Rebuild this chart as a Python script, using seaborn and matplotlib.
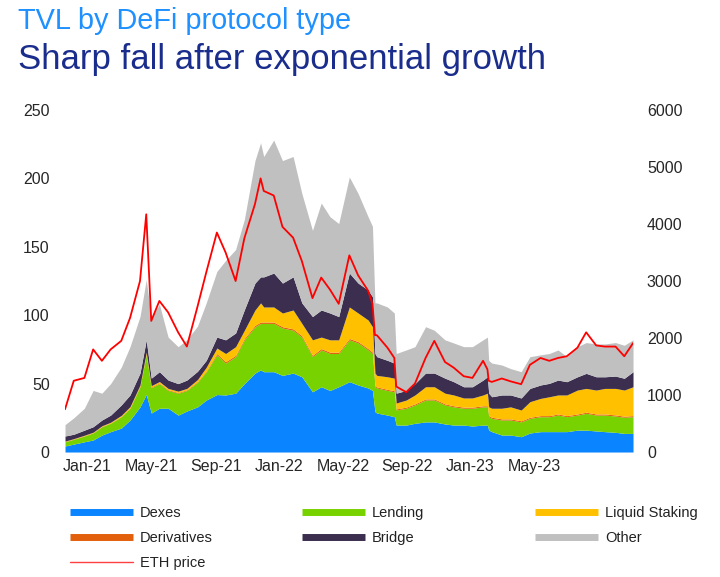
import pandas as pd
import matplotlib.pyplot as plt
from matplotlib.lines import Line2D
import seaborn as sns

# dates sampled along the axis (extra points around the May-22, Jun-22 and Nov-22 drops)
dates = pd.to_datetime([
    '2021-01-01', '2021-01-15', '2021-02-01', '2021-02-15', '2021-03-01', '2021-03-15',
    '2021-04-01', '2021-04-15', '2021-05-01', '2021-05-11', '2021-05-19', '2021-06-01',
    '2021-06-15', '2021-07-01', '2021-07-15', '2021-08-01', '2021-08-15', '2021-09-01',
    '2021-09-15', '2021-10-01', '2021-10-15', '2021-11-01', '2021-11-10', '2021-11-15',
    '2021-12-01', '2021-12-15', '2022-01-01', '2022-01-15', '2022-02-01', '2022-02-15',
    '2022-03-01', '2022-03-15', '2022-04-01', '2022-04-15', '2022-05-01', '2022-05-08',
    '2022-05-12', '2022-05-15', '2022-06-01', '2022-06-12', '2022-06-15', '2022-07-01',
    '2022-07-15', '2022-08-01', '2022-08-15', '2022-09-01', '2022-09-15', '2022-10-01',
    '2022-10-15', '2022-11-01', '2022-11-08', '2022-11-10', '2022-11-15', '2022-12-01',
    '2022-12-15', '2023-01-01', '2023-01-15', '2023-02-01', '2023-02-15', '2023-03-01',
    '2023-03-15', '2023-04-01', '2023-04-15', '2023-05-01', '2023-05-15', '2023-06-01',
    '2023-06-15', '2023-06-29',
])

# TVL in USD bn, by protocol type
dexes = [4.4, 5.8, 7.5, 8.8, 12.4, 14.9, 17.5, 23.4, 33, 42, 28.5, 32,
         32, 27, 30, 33, 38, 42, 41.7, 43, 50, 57.7, 60, 58.7,
         58.7, 56, 57.7, 55, 44, 47.7, 45, 47.7, 51.4, 49, 46.8, 45,
         29.5, 28.5, 27, 25.8, 19.7, 19.7, 21, 22, 22, 20.5, 19.7, 19.7,
         19, 19.7, 19.7, 16, 14.9, 12.4, 12.4, 11.2, 13.9, 14.9, 14.9, 14.9,
         14.9, 16, 16, 15.4, 14.9, 14.4, 13.6, 13.6]
lending = [3.1, 3.5, 4.2, 5.1, 6.1, 6.1, 8.3, 8.6, 14.7, 29, 18.5, 18,
           13, 16, 15, 18, 20.7, 29, 23.3, 26.7, 32, 33.9, 34, 35.3,
           35.3, 34.6, 31.3, 29, 25.7, 26.9, 27, 24.3, 30.6, 30.7, 27.8, 27,
           18.2, 18.3, 18, 18.2, 11, 12.3, 13.4, 16, 16, 13.9, 13.3, 12.3,
           13, 13.3, 13.3, 9.8, 9.7, 11, 11, 10.8, 10.7, 10.9, 10.9, 12.1,
           10.9, 11, 12.3, 11.6, 12.1, 11.9, 11.8, 12.2]
derivatives = [0.2, 0.2, 0.2, 0.2, 0.2, 0.2, 0.2, 0.2, 0.5, 0.5, 0.5, 0.5,
               0.5, 0.5, 0.5, 0.5, 0.5, 1, 1, 1, 1, 1, 1, 1,
               1, 1, 1, 1, 1, 1, 1, 1, 1, 1, 1, 1,
               0.8, 0.8, 0.8, 0.8, 0.8, 0.8, 0.8, 0.8, 0.8, 0.8, 0.8, 0.8,
               0.8, 0.8, 0.8, 0.8, 0.8, 0.8, 0.8, 0.8, 0.8, 0.8, 0.8, 0.8,
               0.8, 0.8, 0.8, 0.8, 0.8, 0.8, 0.8, 0.8]
liquid_staking = [0.3, 0.3, 0.4, 0.4, 0.5, 0.6, 0.8, 1.0, 0.8, 1.5, 1.0, 1.0,
                  1.0, 1.0, 1.0, 1.5, 2.8, 4.0, 6.0, 6.3, 6.0, 11.2, 14, 11,
                  11, 10, 13.8, 9, 11.3, 8.4, 9, 9, 23, 20.9, 20.9, 18.6,
                  9.2, 8.4, 9.2, 9.2, 4.3, 5.2, 6.5, 8.9, 8.9, 7.8, 7.9, 6.7,
                  6.7, 7.9, 9.2, 6.4, 6.6, 7.8, 8.8, 7.9, 11.4, 12.6, 13.8, 13.9,
                  15.1, 17.5, 17.4, 17.5, 18.7, 19.4, 19.1, 21.1]
bridge = [3.7, 3.2, 3.7, 4.0, 4.2, 5.2, 7.6, 8.5, 8.7, 9, 5.5, 7.2,
          6.1, 5.5, 6.1, 6, 5, 8, 10, 10, 15, 19.7, 19, 22,
          24.8, 21.9, 24.2, 15, 17, 19.8, 19.6, 17, 24.8, 21.9, 21.9, 21.9,
          14.3, 13.7, 12, 11, 7.2, 7, 8.3, 10, 10, 11, 9.7, 8.2,
          8.2, 10.9, 12, 10, 8.4, 9.7, 8.7, 8.8, 9.7, 9.8, 9.8, 10.9,
          9.7, 9.7, 11, 9.7, 8.5, 9, 8.6, 11]
other = [8.3, 12, 16, 26.5, 19.6, 23, 27.6, 35.3, 41.3, 44, 44, 49.3,
         31.4, 27, 29.4, 33, 42, 48, 58, 61, 66, 89.5, 98, 88,
         97.2, 89.5, 88, 80, 63, 78.2, 70.4, 68, 70.2, 65.5, 53.6, 51.5,
         37, 39.3, 39, 36.6, 29, 29.6, 27, 33.9, 31.3, 28, 28.3, 29.3,
         29.3, 29.4, 29, 24, 24.6, 21.9, 19.3, 19.2, 23.2, 22, 21.8, 22,
         18.3, 22, 22.5, 24, 24, 24.5, 24.1, 23.3]

# ETH price, USD (right axis)
eth_price = [750, 1250, 1300, 1800, 1600, 1800, 1950, 2350, 3000, 4170, 2300, 2650,
             2450, 2100, 1850, 2550, 3150, 3850, 3500, 3000, 3750, 4350, 4800, 4580,
             4500, 3950, 3760, 3350, 2700, 3060, 2850, 2600, 3450, 3100, 2830, 2600,
             2050, 2050, 1830, 1650, 1150, 1050, 1200, 1650, 1950, 1580, 1480, 1330,
             1300, 1600, 1450, 1250, 1230, 1290, 1240, 1190, 1530, 1650, 1600, 1650,
             1680, 1830, 2100, 1870, 1850, 1850, 1680, 1910]

series = ['Dexes', 'Lending', 'Derivatives', 'Liquid Staking', 'Bridge', 'Other']
colors = {'Dexes': '#0a84ff', 'Lending': '#78d200', 'Derivatives': '#e2600c',
          'Liquid Staking': '#ffc000', 'Bridge': '#3b2e4e', 'Other': '#c0c0c0'}

# category-style axis labels, evenly spaced as in the source chart
tick_labels = ['Jan-21', 'May-21', 'Sep-21', 'Jan-22', 'May-22', 'Sep-22', 'Jan-23', 'May-23']
tick_dates = pd.to_datetime(['2021-02-06', '2021-05-20', '2021-08-30', '2021-12-10',
                             '2022-03-22', '2022-07-02', '2022-10-12', '2023-01-22'])

sns.set_theme(style='white')
plt.rcParams['font.family'] = ['Liberation Sans', 'DejaVu Sans']

fig = plt.figure(figsize=(7.2, 5.77), dpi=100)
ax = fig.add_axes([0.0903, 0.2166, 0.7889, 0.5928])

ax.stackplot(dates, dexes, lending, derivatives, liquid_staking, bridge, other,
             colors=[colors[s] for s in series], linewidth=0)
ax.set_xlim(dates[0], dates[-1])
ax.set_ylim(0, 250)
ax.set_yticks(range(0, 251, 50))
ax.set_xticks(tick_dates)
ax.set_xticklabels(tick_labels)

ax2 = ax.twinx()
sns.lineplot(x=dates, y=eth_price, ax=ax2, color='#ff0000', linewidth=1.3)
ax2.set_ylim(0, 6000)
ax2.set_yticks(range(0, 6001, 1000))

for a in (ax, ax2):
    for sp in a.spines.values():
        sp.set_visible(False)
    a.tick_params(length=0, labelsize=11.5, labelcolor='#262626')
    a.grid(False)
    a.set_xlabel('')
    a.set_ylabel('')
ax.tick_params(axis='y', pad=11)
ax.tick_params(axis='x', pad=5)
ax2.tick_params(axis='y', pad=10)

fig.text(18 / 720, 1 - 7 / 577, 'TVL by DeFi protocol type', fontsize=20.8,
         color='#1e90ff', va='top', ha='left')
fig.text(18 / 720, 1 - 43 / 577, 'Sharp fall after exponential growth', fontsize=25,
         color='#1a2d8c', va='top', ha='left')

def handle(name):
    return Line2D([], [], color=colors[name], linewidth=5, solid_capstyle='butt')

columns = [
    (70, [handle('Dexes'), handle('Derivatives'),
          Line2D([], [], color='#ff4040', linewidth=1.0)],
     ['Dexes', 'Derivatives', 'ETH price']),
    (302, [handle('Lending'), handle('Bridge')], ['Lending', 'Bridge']),
    (535, [handle('Liquid Staking'), handle('Other')], ['Liquid Staking', 'Other']),
]
for x0, hs, labels in columns:
    fig.legend(hs, labels, loc='upper left', bbox_to_anchor=(x0 / 720, 1 - 506 / 577),
               frameon=False, fontsize=10.5, handlelength=4.3, handletextpad=0.5,
               labelspacing=0.75, borderpad=0, borderaxespad=0, labelcolor='#222222')

fig.savefig('out.png', dpi=100)
